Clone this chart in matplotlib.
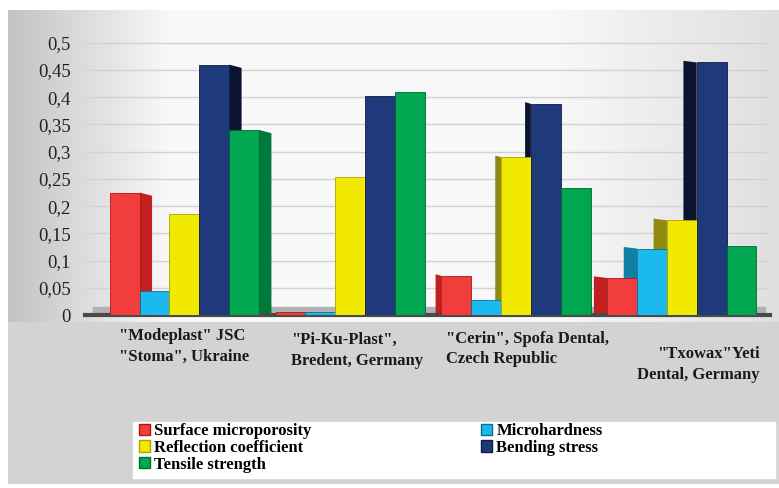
import numpy as np
import matplotlib
matplotlib.use("Agg")
import matplotlib.pyplot as plt
from matplotlib.patches import Patch, Polygon, Rectangle

# data
groups = ['"Modeplast" JSC\n"Stoma", Ukraine',
          '"Pi-Ku-Plast",\nBredent, Germany',
          '"Cerin", Spofa Dental,\nCzech Republic',
          '"Txowax"Yeti\nDental, Germany']
series = ['Surface microporosity', 'Microhardness', 'Reflection coefficient',
          'Bending stress', 'Tensile strength']
surface_microporosity = [0.225, 0.006, 0.072, 0.068]
microhardness = [0.045, 0.006, 0.027, 0.122]
reflection_coefficient = [0.185, 0.254, 0.290, 0.174]
bending_stress = [0.460, 0.402, 0.388, 0.464]
tensile_strength = [0.340, 0.410, 0.234, 0.127]
values = [surface_microporosity, microhardness, reflection_coefficient,
          bending_stress, tensile_strength]
yticks = [0, 0.05, 0.1, 0.15, 0.2, 0.25, 0.3, 0.35, 0.4, 0.45, 0.5]

front = ['#f23d3d', '#1cb9ec', '#f2e900', '#1f3a7a', '#00a650']
side = ['#c21f1f', '#0f7fa6', '#8f8a10', '#0a1430', '#007a3a']
edge = ['#b01515', '#0a6f90', '#b0a000', '#101c40', '#006a30']

fig = plt.figure(figsize=(7.79, 4.88), dpi=100)

# grey gradient frame behind the chart
H, W = 488, 779
xs = np.linspace(0, 1, W)
row = 0.975 - 0.22 * np.clip(1 - xs / 0.22, 0, 1) - 0.1 * np.clip((xs - 0.7) / 0.3, 0, 1)
img = np.tile(row, (H, 1))
img[322:, :] = 0.83
img[:10, :] = 1.0
img[:, :8] = 1.0
img[484:, :] = 1.0
bg = fig.add_axes([0, 0, 1, 1])
bg.imshow(np.dstack([img] * 3), extent=[0, 1, 0, 1], aspect='auto', zorder=0)
bg.add_patch(Rectangle((133 / W, 1 - 478 / H), (775 - 133) / W, 56 / H,
                       color='white', zorder=1))
bg.set_xlim(0, 1)
bg.set_ylim(0, 1)
bg.axis('off')

ax = fig.add_axes([0.109, 0.3545, 0.879, 0.58])
ax.patch.set_alpha(0)

x = np.arange(len(groups))
w = 0.18
depth = [0.075, 0.0, 0.035, 0.08]   # visible side face per group
offsets = (np.arange(len(series)) - 2) * w

ax.fill_between([-0.55, 3.5], 0, 0.014, color='#b2b2b2', zorder=1)

for i in range(len(series)):
    for g in range(len(groups)):
        xc = x[g] + offsets[i]
        h = values[i][g]
        dx = depth[g]
        if dx == 0:
            continue
        if g < 2:
            xe = xc + w / 2
            pts = [(xe, 0), (xe + dx, 0), (xe + dx, h - 0.006), (xe, h)]
        else:
            xe = xc - w / 2
            pts = [(xe, 0), (xe - dx, 0), (xe - dx, h + 0.003), (xe, h)]
        ax.add_patch(Polygon(pts, closed=True, facecolor=side[i],
                             edgecolor='none', zorder=2))

handles = []
for i in range(len(series)):
    ax.bar(x + offsets[i], values[i], w, color=front[i], edgecolor=edge[i],
           linewidth=0.6, zorder=3)
    handles.append(Patch(facecolor=front[i], edgecolor=edge[i], label=series[i]))

ax.set_xlim(-0.6, 3.53)
ax.set_ylim(0, 0.52)
ax.set_yticks(yticks)
ax.set_yticklabels([f'{v:g}'.replace('.', ',') for v in yticks])
for lab in ax.get_yticklabels():
    lab.set_fontfamily('Liberation Serif')
    lab.set_fontsize(13.5)
    lab.set_color('#222222')
ax.yaxis.grid(True, color='#d2d2d2', linewidth=1)
ax.set_axisbelow(True)
ax.tick_params(axis='y', length=0, pad=10)
ax.set_xticks([])
for s in ['top', 'right', 'left']:
    ax.spines[s].set_visible(False)
ax.spines['bottom'].set_color('#4a4a4a')
ax.spines['bottom'].set_linewidth(3)
ax.spines['bottom'].set_bounds(-0.6, 3.53)

# category labels, placed one by one as in the reference
lab_x = [0.0, 0.04, 0.07, 0.1]
lab_y = [-0.045, -0.06, -0.055, -0.11]
lab_align = ['left', 'left', 'left', 'right']
for g in range(len(groups)):
    ax.text(x[g] + lab_x[g], lab_y[g], groups[g], transform=ax.get_xaxis_transform(),
            ha='center', va='top', multialignment=lab_align[g],
            fontfamily='Liberation Serif', fontweight='bold', fontsize=12,
            color='#1a1a1a', linespacing=1.4)

order = [0, 2, 4, 1, 3]
fig.legend([handles[k] for k in order], [series[k] for k in order],
           loc='upper left', bbox_to_anchor=(139 / W, 1 - 423 / H), ncol=2,
           frameon=False, borderaxespad=0, borderpad=0, labelspacing=0.05,
           handlelength=0.65, handleheight=0.65, handletextpad=0.25,
           columnspacing=10.2,
           prop={'family': 'Liberation Serif', 'weight': 'bold', 'size': 12})

fig.savefig('out.png', dpi=100)
